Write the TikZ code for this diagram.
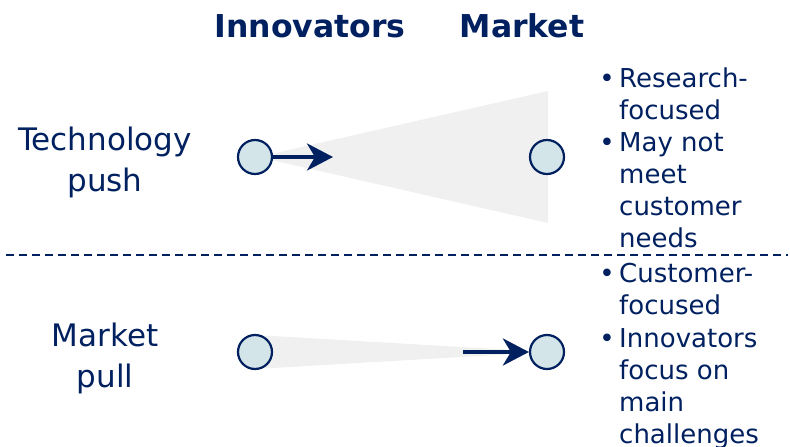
\documentclass[tikz,border=0pt]{standalone}
\usepackage{fontspec}
\setmainfont{DejaVu Sans}
\usetikzlibrary{arrows.meta}

\definecolor{navy}{HTML}{002060}
\definecolor{bolita}{HTML}{D3E5E9}
\definecolor{gris}{HTML}{F0F0F0}

\tikzset{
  punto/.style={circle, draw=navy, line width=2.2pt, fill=bolita, minimum size=34pt, inner sep=0},
  flecha/.style={navy, line width=4pt, -{Stealth[length=26pt, width=27pt, inset=8pt]}},
  cabecera/.style={navy, font=\bfseries\fontsize{31.5}{36}\selectfont, anchor=base},
  fila/.style={navy, align=center, font=\fontsize{31}{41}\selectfont},
  vineta/.style={navy, anchor=base west, align=left, inner sep=0,
    font=\fontsize{26}{32}\selectfont},
  bala/.style={navy, anchor=base east, inner sep=0, font=\fontsize{26}{32}\selectfont},
}

\begin{document}
\begin{tikzpicture}[x=1pt, y=-1pt]
    \useasboundingbox (0,0) rectangle (790,447);

    % Cabeceras de columna
    \node[cabecera] (innov) at (310,37) {Innovators};
    \node[cabecera] (mkt) at (522,37) {Market};

    % Cuñas grises (al fondo)
    \fill[gris] (258,157) -- (548,91) -- (548,223) -- cycle;
    \fill[gris] (255,335) -- (547,352) -- (255,369) -- cycle;

    % Fila superior: empuje tecnológico
    \node[fila] (tech) at (105,162) {Technology\\push};
    \node[punto] (tl) at (255,157) {};
    \node[punto] (tr) at (547,157) {};
    \coordinate (tpunta) at (333,157);
    \draw[flecha] (tl) -- (tpunta);

    % Separador
    \draw[navy, line width=2pt, dash pattern=on 8pt off 5pt] (6,255) -- (788,255);

    % Fila inferior: tirón del mercado
    \node[fila] (pull) at (105,358) {Market\\pull};
    \node[punto] (bl) at (255,352) {};
    \node[punto] (br) at (547,352) {};
    \coordinate (bcola) at (463,352);
    \draw[flecha] (bcola) -- (br);

    % Viñetas a la derecha (base = última línea)
    \node[vineta] (v1) at (619,119) {Research-\\focused};
    \node[vineta] (v2) at (619,247) {May not\\meet\\customer\\needs};
    \node[vineta] (v3) at (619,314) {Customer-\\focused};
    \node[vineta] (v4) at (619,443) {Innovators\\focus on\\main\\challenges};
    \node[bala] (b1) at (615,87) {•};
    \node[bala] (b2) at (615,151) {•};
    \node[bala] (b3) at (615,282) {•};
    \node[bala] (b4) at (615,347) {•};
\end{tikzpicture}
\end{document}
